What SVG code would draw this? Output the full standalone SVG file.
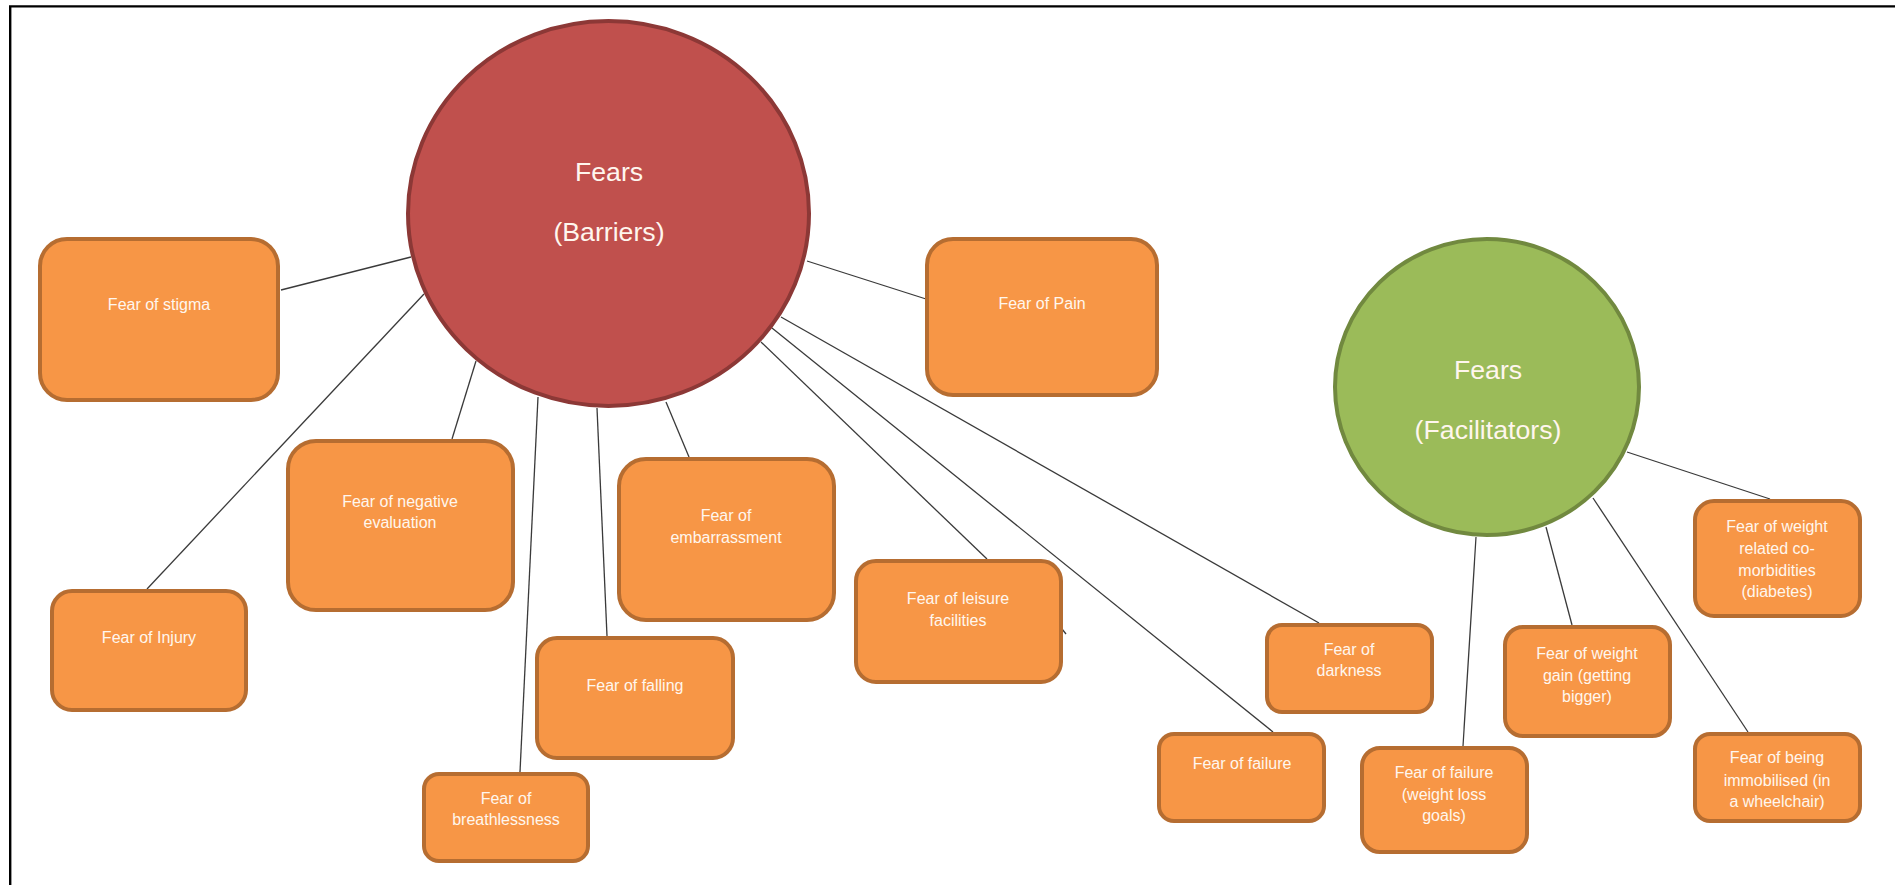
<svg xmlns="http://www.w3.org/2000/svg" width="1895" height="885" viewBox="0 0 1895 885">
  <style>
    .frame { fill: none; stroke: #000000; stroke-width: 2.4; }
    .link { stroke: #3a3a3a; stroke-width: 1.3; fill: none; }
    .box { fill: #F79646; stroke: #B66D31; stroke-width: 4; }
    .hub-red { fill: #C0504D; stroke: #8C3836; stroke-width: 4; }
    .hub-green { fill: #9BBB59; stroke: #71893F; stroke-width: 4; }
    text { font-family: "Liberation Sans", Arial, sans-serif; fill: #FFF6EE; text-anchor: middle; }
    .lbl { font-size: 16px; }
    .hub { font-size: 26.7px; }
  </style>

  <rect x="0" y="0" width="1895" height="885" fill="#FFFFFF"/>
  <path class="frame" d="M10.2,885 V6.4 H1895"/>

  <g id="connectors">
    <!-- Barriers hub -->
    <line class="link" x1="411" y1="257" x2="281" y2="290"/>
    <line class="link" x1="424" y1="294" x2="147" y2="589"/>
    <line class="link" x1="476" y1="361" x2="452" y2="439"/>
    <line class="link" x1="538" y1="397" x2="520" y2="772"/>
    <line class="link" x1="597" y1="408" x2="607" y2="636"/>
    <line class="link" x1="666" y1="402" x2="689" y2="457"/>
    <line class="link" x1="807" y1="261" x2="926" y2="299"/>
    <line class="link" x1="761" y1="342" x2="987" y2="559"/>
    <line class="link" x1="772" y1="328" x2="1273" y2="732"/>
    <line class="link" x1="781" y1="317" x2="1319" y2="623"/>
    <line class="link" x1="1062" y1="629" x2="1066" y2="634"/>
    <!-- Facilitators hub -->
    <line class="link" x1="1627" y1="452" x2="1770" y2="499"/>
    <line class="link" x1="1593" y1="498" x2="1748" y2="732"/>
    <line class="link" x1="1546" y1="527" x2="1572" y2="625"/>
    <line class="link" x1="1476" y1="537" x2="1463" y2="746"/>
  </g>

  <g id="hub-barriers">
    <ellipse class="hub-red" cx="608.5" cy="213.5" rx="200.5" ry="192.5"/>
    <text class="hub" x="609" y="181">Fears</text>
    <text class="hub" x="609" y="241">(Barriers)</text>
  </g>

  <g id="hub-facilitators">
    <ellipse class="hub-green" cx="1487" cy="387" rx="152" ry="148"/>
    <text class="hub" x="1488" y="379">Fears</text>
    <text class="hub" x="1488" y="439">(Facilitators)</text>
  </g>

  <g id="stigma">
    <rect class="box" x="40" y="239" width="238" height="161" rx="27" ry="27"/>
    <text class="lbl" x="159" y="310">Fear of stigma</text>
  </g>

  <g id="injury">
    <rect class="box" x="52" y="591" width="194" height="119" rx="20" ry="20"/>
    <text class="lbl" x="149" y="643">Fear of Injury</text>
  </g>

  <g id="negative-evaluation">
    <rect class="box" x="288" y="441" width="225" height="169" rx="28" ry="28"/>
    <text class="lbl" x="400" y="507">Fear of negative</text>
    <text class="lbl" x="400" y="528">evaluation</text>
  </g>

  <g id="embarrassment">
    <rect class="box" x="619" y="459" width="215" height="161" rx="27" ry="27"/>
    <text class="lbl" x="726" y="521">Fear of</text>
    <text class="lbl" x="726" y="543">embarrassment</text>
  </g>

  <g id="falling">
    <rect class="box" x="537" y="638" width="196" height="120" rx="20" ry="20"/>
    <text class="lbl" x="635" y="691">Fear of falling</text>
  </g>

  <g id="breathlessness">
    <rect class="box" x="424" y="774" width="164" height="87" rx="15" ry="15"/>
    <text class="lbl" x="506" y="804">Fear of</text>
    <text class="lbl" x="506" y="825">breathlessness</text>
  </g>

  <g id="pain">
    <rect class="box" x="927" y="239" width="230" height="156" rx="26" ry="26"/>
    <text class="lbl" x="1042" y="309">Fear of Pain</text>
  </g>

  <g id="leisure-facilities">
    <rect class="box" x="856" y="561" width="205" height="121" rx="20" ry="20"/>
    <text class="lbl" x="958" y="604">Fear of leisure</text>
    <text class="lbl" x="958" y="626">facilities</text>
  </g>

  <g id="darkness">
    <rect class="box" x="1267" y="625" width="165" height="87" rx="15" ry="15"/>
    <text class="lbl" x="1349" y="655">Fear of</text>
    <text class="lbl" x="1349" y="676">darkness</text>
  </g>

  <g id="failure">
    <rect class="box" x="1159" y="734" width="165" height="87" rx="15" ry="15"/>
    <text class="lbl" x="1242" y="769">Fear of failure</text>
  </g>

  <g id="failure-weight-loss">
    <rect class="box" x="1362" y="748" width="165" height="104" rx="18" ry="18"/>
    <text class="lbl" x="1444" y="778">Fear of failure</text>
    <text class="lbl" x="1444" y="800">(weight loss</text>
    <text class="lbl" x="1444" y="821">goals)</text>
  </g>

  <g id="weight-gain">
    <rect class="box" x="1505" y="627" width="165" height="109" rx="18" ry="18"/>
    <text class="lbl" x="1587" y="659">Fear of weight</text>
    <text class="lbl" x="1587" y="681">gain (getting</text>
    <text class="lbl" x="1587" y="702">bigger)</text>
  </g>

  <g id="comorbidities">
    <rect class="box" x="1695" y="501" width="165" height="115" rx="19" ry="19"/>
    <text class="lbl" x="1777" y="532">Fear of weight</text>
    <text class="lbl" x="1777" y="554">related co-</text>
    <text class="lbl" x="1777" y="576">morbidities</text>
    <text class="lbl" x="1777" y="597">(diabetes)</text>
  </g>

  <g id="immobilised">
    <rect class="box" x="1695" y="734" width="165" height="87" rx="15" ry="15"/>
    <text class="lbl" x="1777" y="763">Fear of being</text>
    <text class="lbl" x="1777" y="786">immobilised (in</text>
    <text class="lbl" x="1777" y="807">a wheelchair)</text>
  </g>
</svg>
